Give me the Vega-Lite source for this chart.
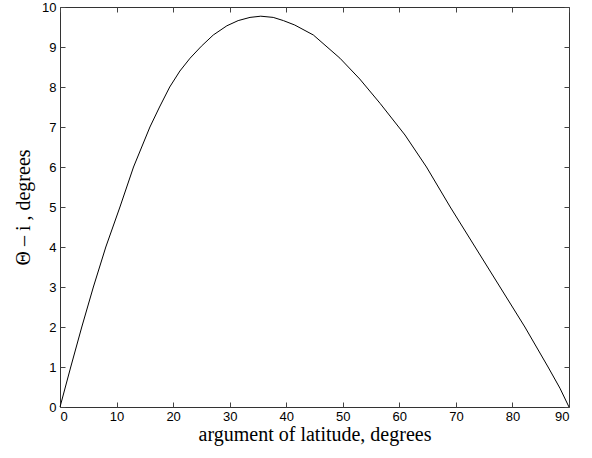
{
  "$schema": "https://vega.github.io/schema/vega-lite/v6.json",
  "width": 509,
  "height": 400,
  "autosize": {"type": "none"},
  "padding": {"left": 60, "top": 7, "right": 23, "bottom": 51},
  "background": "white",
  "config": {
    "view": {"stroke": "#333333", "strokeWidth": 1},
    "axis": {"grid": false, "domain": false, "labelFont": "Liberation Sans", "labelFontSize": 13, "labelColor": "#000000", "tickColor": "#444444", "tickSize": -5, "titleFont": "Liberation Serif", "titleFontSize": 20, "titleFontWeight": "normal", "titleColor": "#000000"}
  },
  "data": {"values": [
    {"u": 0, "d": 0}, {"u": 1.9, "d": 1.0}, {"u": 3.85, "d": 2.0}, {"u": 5.9, "d": 3.0},
    {"u": 8.1, "d": 4.0}, {"u": 10.6, "d": 5.0}, {"u": 13.0, "d": 6.0}, {"u": 15.9, "d": 7.0},
    {"u": 17.6, "d": 7.5}, {"u": 19.4, "d": 8.0}, {"u": 21.2, "d": 8.4}, {"u": 23.0, "d": 8.72},
    {"u": 25.0, "d": 9.02}, {"u": 27.1, "d": 9.3}, {"u": 29.5, "d": 9.53}, {"u": 31.5, "d": 9.66},
    {"u": 33.6, "d": 9.74}, {"u": 35.5, "d": 9.77}, {"u": 37.7, "d": 9.74}, {"u": 39.5, "d": 9.66},
    {"u": 41.5, "d": 9.55}, {"u": 44.8, "d": 9.3}, {"u": 49.5, "d": 8.72}, {"u": 53.0, "d": 8.2},
    {"u": 56.6, "d": 7.59}, {"u": 61.0, "d": 6.8}, {"u": 64.8, "d": 6.0}, {"u": 69.0, "d": 5.0},
    {"u": 73.4, "d": 4.0}, {"u": 77.8, "d": 3.0}, {"u": 82.2, "d": 2.0}, {"u": 86.3, "d": 1.0},
    {"u": 88.4, "d": 0.47}, {"u": 90, "d": 0}
  ]},
  "layer": [
    {
      "mark": {"type": "line", "color": "#000000", "strokeWidth": 1},
      "encoding": {
        "x": {"field": "u", "type": "quantitative", "scale": {"domain": [0, 90], "nice": false, "zero": false},
              "axis": {"orient": "bottom", "values": [0,10,20,30,40,50,60,70,80,90], "labelPadding": 8, "title": "argument of latitude, degrees", "titlePadding": 1}},
        "y": {"field": "d", "type": "quantitative", "scale": {"domain": [0, 10], "nice": false},
              "axis": {"orient": "left", "values": [0,1,2,3,4,5,6,7,8,9,10], "labelPadding": 9, "title": "Θ – i , degrees", "titlePadding": 8}}
      }
    },
    {
      "mark": {"type": "line", "opacity": 0},
      "encoding": {
        "x": {"field": "u", "type": "quantitative", "scale": {"domain": [0, 90], "nice": false, "zero": false},
              "axis": {"orient": "top", "values": [0,10,20,30,40,50,60,70,80,90], "labels": false, "title": null}},
        "y": {"field": "d", "type": "quantitative", "scale": {"domain": [0, 10], "nice": false},
              "axis": {"orient": "right", "values": [0,1,2,3,4,5,6,7,8,9,10], "labels": false, "title": null}}
      }
    }
  ],
  "resolve": {"axis": {"x": "independent", "y": "independent"}}
}
